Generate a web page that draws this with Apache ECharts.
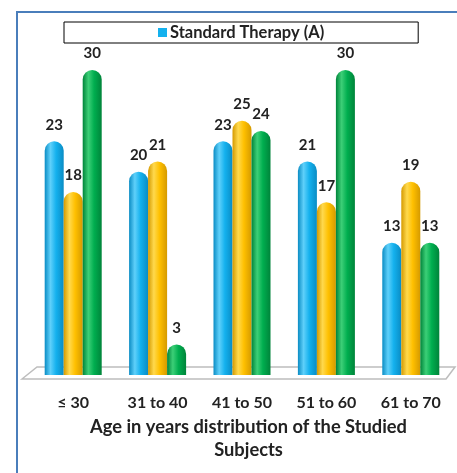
<!DOCTYPE html>
<html>
<head>
<meta charset="utf-8">
<script src="https://cdn.jsdelivr.net/npm/echarts@6/dist/echarts.min.js"></script>
<style>
  html, body { margin: 0; padding: 0; background: #fff; }
  #chart { width: 457px; height: 473px; }
</style>
</head>
<body>
<div id="chart"></div>
<script>
// Age groups on the category axis
const ageGroups = ['≤ 30', '31 to 40', '41 to 50', '51 to 60', '61 to 70'];

// Counts per age group for each series
const standardTherapyA = [23, 20, 23, 21, 13];
const seriesB = [18, 21, 25, 17, 19];
const seriesC = [30, 3, 24, 30, 13];

const seriesNames = ['Standard Therapy (A)', 'Series B', 'Series C'];
const axisTitle = 'Age in years distribution of the Studied\nSubjects';

const FONT = 'Lato, "Liberation Sans", sans-serif';

// Horizontal shading gives each bar a rounded, cylinder-like look
function cylinder(dark, mid, light) {
  return new echarts.graphic.LinearGradient(0, 0, 1, 0, [
    { offset: 0, color: dark },
    { offset: 0.3, color: light },
    { offset: 0.6, color: mid },
    { offset: 1, color: dark }
  ]);
}

const palette = [
  cylinder('#0a8cc4', '#14b1ee', '#5fd0fa'),
  cylinder('#d59a00', '#ffc000', '#ffd94d'),
  cylinder('#00843a', '#00ae4f', '#3ccf77')
];

function makeSeries(name, values, idx) {
  return {
    name: name,
    type: 'bar',
    data: values,
    barWidth: 19,
    barGap: '0%',
    itemStyle: { color: palette[idx], borderRadius: [9.5, 9.5, 0, 0] },
    label: {
      show: true,
      position: 'top',
      distance: 9,
      color: '#222',
      fontFamily: FONT,
      fontWeight: 'bold',
      fontSize: 15
    }
  };
}

const chart = echarts.init(document.getElementById('chart'), null, { renderer: 'canvas' });

chart.setOption({
  animation: false,
  backgroundColor: '#fff',
  graphic: [
    // outer frame
    {
      type: 'rect',
      z: -10,
      shape: { x: 17, y: 12, width: 600, height: 600 },
      style: { fill: 'none', stroke: '#4a7ebb', lineWidth: 2 }
    },
    // floor platform under the bars
    {
      type: 'polygon',
      z: -5,
      shape: { points: [[22, 379], [37, 367], [455, 367], [446, 379]] },
      style: { fill: '#fff', stroke: '#bdbdbd', lineWidth: 1.5 }
    }
  ],
  legend: {
    data: [{ name: seriesNames[0], itemStyle: { color: '#14b1ee' } }],
    left: 64,
    top: 22,
    padding: [2, 94, 2, 94],
    borderColor: '#000',
    borderWidth: 1,
    itemWidth: 9,
    itemHeight: 9,
    itemGap: 3,
    icon: 'rect',
    textStyle: {
      fontFamily: FONT,
      fontWeight: 'bold',
      fontSize: 16.5,
      color: '#222',
      padding: [0, 0, 0, -2]
    }
  },
  grid: { left: 31, right: 4, top: 70, bottom: 98 },
  xAxis: {
    type: 'category',
    data: ageGroups,
    axisLine: { show: false },
    axisTick: { show: false },
    axisLabel: {
      margin: 20,
      color: '#222',
      fontFamily: FONT,
      fontWeight: 'bold',
      fontSize: 16
    },
    name: axisTitle,
    nameLocation: 'middle',
    nameGap: 40,
    nameTextStyle: {
      color: '#222',
      fontFamily: FONT,
      fontWeight: 'bold',
      fontSize: 18.3,
      lineHeight: 23,
      padding: [0, 0, 0, 13]
    }
  },
  yAxis: {
    type: 'value',
    min: 0,
    max: 30,
    show: false
  },
  series: [
    makeSeries(seriesNames[0], standardTherapyA, 0),
    makeSeries(seriesNames[1], seriesB, 1),
    makeSeries(seriesNames[2], seriesC, 2)
  ]
});
</script>
</body>
</html>
